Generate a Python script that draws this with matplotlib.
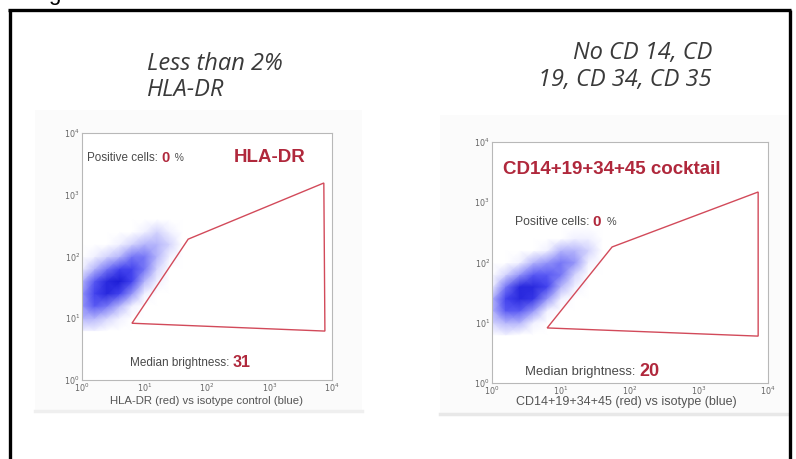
import matplotlib
matplotlib.use("Agg")
import matplotlib.pyplot as plt
import numpy as np
from matplotlib.colors import LinearSegmentedColormap
from matplotlib.patches import Rectangle
from matplotlib.lines import Line2D

# ---------------- data ----------------
titles = ["Less than 2%\nHLA-DR", "No CD 14, CD\n19, CD 34, CD 35"]
markers = ["HLA-DR", "CD14+19+34+45 cocktail"]
xlabels = ["HLA-DR (red) vs isotype control (blue)",
           "CD14+19+34+45 (red) vs isotype (blue)"]
positive_pct = ["0", "0"]
median_brightness = ["31", "20"]

# gate polygons (data units, log axes)
gate_left_x = [6.3, 50, 7400, 7700]
gate_left_y = [8.3, 191, 1550, 6.2]
gate_right_x = [6.3, 55, 7200, 7200]
gate_right_y = [8.2, 181, 1480, 6.0]

# density grid of the isotype cloud (log10 bin centres, relative intensity 0-10)
cloud_log_x = [0.0, 0.2, 0.4, 0.6, 0.8, 1.0, 1.2, 1.4, 1.6]
cloud_log_y = [0.8, 1.0, 1.2, 1.4, 1.6, 1.8, 2.0, 2.2, 2.4, 2.6]
cloud_left = [
    [1, 1, 0, 0, 0, 0, 0, 0, 0],
    [3, 3, 2, 1, 0, 0, 0, 0, 0],
    [4, 6, 5, 3, 1, 0, 0, 0, 0],
    [4, 7, 9, 7, 4, 1, 0, 0, 0],
    [3, 6, 9, 10, 7, 3, 1, 0, 0],
    [1, 3, 5, 7, 7, 5, 2, 0, 0],
    [0, 1, 2, 3, 5, 5, 3, 1, 0],
    [0, 0, 0, 1, 2, 3, 3, 2, 0],
    [0, 0, 0, 0, 0, 1, 2, 1, 0],
    [0, 0, 0, 0, 0, 0, 0, 0, 0],
]
cloud_right = [
    [0, 1, 0, 0, 0, 0, 0, 0, 0],
    [2, 3, 3, 1, 0, 0, 0, 0, 0],
    [3, 6, 6, 4, 1, 0, 0, 0, 0],
    [3, 7, 9, 8, 4, 1, 0, 0, 0],
    [1, 5, 9, 9, 7, 3, 1, 0, 0],
    [0, 2, 4, 6, 6, 5, 2, 0, 0],
    [0, 0, 1, 3, 4, 5, 4, 1, 0],
    [0, 0, 0, 0, 1, 3, 3, 2, 0],
    [0, 0, 0, 0, 0, 0, 1, 1, 0],
    [0, 0, 0, 0, 0, 0, 0, 0, 0],
]

axis_min, axis_max = 1, 1e4

# ---------------- styling ----------------
W, H = 796, 459
fig = plt.figure(figsize=(W / 100, H / 100), dpi=100)
fig.patch.set_facecolor("white")

SANS = ["Liberation Sans", "DejaVu Sans"]
TITLE_FONT = ["Open Sans", "DejaVu Sans"]
RED = "#b0283c"
GATE = "#d24a5a"
GRAY = "#4a4a4a"

cmap = LinearSegmentedColormap.from_list(
    "cloud", [(0.0, "#ffffff"), (0.12, "#eeeeff"), (0.35, "#a4a4fa"),
              (0.65, "#4a4af2"), (1.0, "#1c1cd6")])


def fx(px):
    return px / W


def fy(py):
    return 1 - py / H


# light backing panels
fig.add_artist(Rectangle((fx(35), fy(412)), fx(362) - fx(35), fy(110) - fy(412),
                         transform=fig.transFigure, facecolor="#fbfbfb",
                         edgecolor="none", zorder=0))
fig.add_artist(Line2D([fx(35), fx(362)], [fy(411), fy(411)],
                      transform=fig.transFigure, color="#efefef", lw=2.5))
fig.add_artist(Rectangle((fx(440), fy(415)), fx(788) - fx(440), fy(115) - fy(415),
                         transform=fig.transFigure, facecolor="#fbfbfb",
                         edgecolor="none", zorder=0))
fig.add_artist(Line2D([fx(440), fx(788)], [fy(414), fy(414)],
                      transform=fig.transFigure, color="#e8e8e8", lw=2.5))

# black frame
for xs, ys in [([fx(9.5), fx(9.5)], [fy(9.5), -0.05]),
               ([fx(789.5), fx(789.5)], [fy(9.5), -0.05]),
               ([fx(8), fx(791)], [fy(9.5), fy(9.5)])]:
    fig.add_artist(Line2D(xs, ys, transform=fig.transFigure, color="black",
                          lw=2.4, solid_capstyle="butt"))
fig.text(fx(48), 1.0, "g", fontsize=16, color="black", va="baseline",
         family=SANS)

panels = [
    dict(box=(82, 133, 332, 380), cloud=cloud_left,
         gx=gate_left_x, gy=gate_left_y,
         title_xy=(147, 77), title_ha="left",
         marker_xy=(0.75, 0.899), marker_ha="center",
         pos_xy=(0.02, 0.899), med_xy=(0.192, 0.069),
         xlab_xy=(0.496, -0.085), xlab_fs=8.2,
         small=8.4, big=10.5, med_small=8.5, med_big=11.5),
    dict(box=(492, 142, 768, 383), cloud=cloud_right,
         gx=gate_right_x, gy=gate_right_y,
         title_xy=(712, 66.5), title_ha="right",
         marker_xy=(0.04, 0.884), marker_ha="left",
         pos_xy=(0.083, 0.668), med_xy=(0.12, 0.046),
         xlab_xy=(0.486, -0.078), xlab_fs=9.0,
         small=8.8, big=11, med_small=9.4, med_big=13),
]

for i, p in enumerate(panels):
    x0, y0, x1, y1 = p["box"]
    ax = fig.add_axes([fx(x0), fy(y1), fx(x1) - fx(x0), fy(y0) - fy(y1)])
    ax.set_xscale("log")
    ax.set_yscale("log")
    ax.set_xlim(axis_min, axis_max)
    ax.set_ylim(axis_min, axis_max)
    ax.set_facecolor("white")
    for s in ax.spines.values():
        s.set_color("#b8b8b8")
        s.set_linewidth(0.8)
    ax.tick_params(which="both", length=0, labelsize=5.8, labelcolor="#666666",
                   pad=1.5)
    ax.minorticks_off()
    ax.set_xticks([1, 10, 100, 1000, 10000])
    ax.set_yticks([1, 10, 100, 1000, 10000])

    # isotype cloud as a density grid
    X, Y = np.meshgrid(10 ** np.array(cloud_log_x), 10 ** np.array(cloud_log_y))
    ax.pcolormesh(X, Y, np.array(p["cloud"], dtype=float), cmap=cmap,
                  shading="gouraud", vmin=0, vmax=10, zorder=1)

    # gate
    ax.fill(p["gx"], p["gy"], facecolor="none", edgecolor=GATE, lw=1.0,
            zorder=3)

    # marker name
    ax.text(*p["marker_xy"], markers[i], transform=ax.transAxes,
            ha=p["marker_ha"], va="center", fontsize=13.5, fontweight="bold",
            color=RED, family=SANS)

    # positive cells
    t1 = ax.text(*p["pos_xy"], "Positive cells: ", transform=ax.transAxes,
                 ha="left", va="center", fontsize=p["small"], color=GRAY,
                 family=SANS)
    t2 = ax.annotate(positive_pct[i], xy=(1, 0.5), xycoords=t1, ha="left",
                     va="center", fontsize=p["big"], fontweight="bold",
                     color=RED, family=SANS)
    ax.annotate("  %", xy=(1, 0.5), xycoords=t2, ha="left", va="center",
                fontsize=p["small"] - 1, color=GRAY, family=SANS)

    # median brightness
    m1 = ax.text(*p["med_xy"], "Median brightness: ", transform=ax.transAxes,
                 ha="left", va="center", fontsize=p["med_small"], color=GRAY,
                 family=SANS)
    ax.annotate(median_brightness[i], xy=(1, 0.5), xycoords=m1, ha="left",
                va="center", fontsize=p["med_big"], fontweight="bold",
                color=RED, family=SANS)

    # x label
    ax.text(*p["xlab_xy"], xlabels[i], transform=ax.transAxes, ha="center",
            va="center", fontsize=p["xlab_fs"], color="#555555", family=SANS)

    # title
    tx, ty = p["title_xy"]
    fig.text(fx(tx), fy(ty), titles[i], ha=p["title_ha"], va="center",
             fontsize=17, style="italic", color="#3a3a3a", family=TITLE_FONT,
             linespacing=1.12, multialignment=p["title_ha"])

fig.savefig("out.png", dpi=100, facecolor="white")
